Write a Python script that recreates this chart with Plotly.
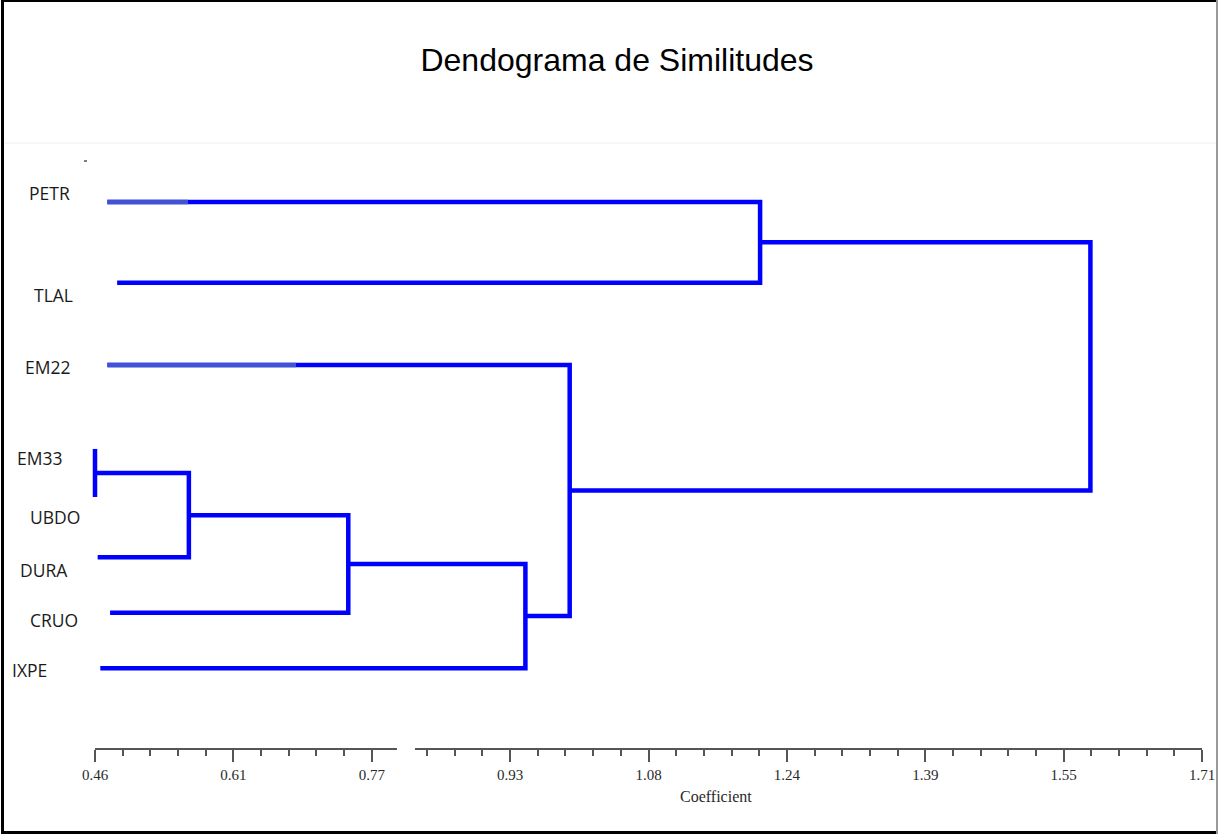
import plotly.graph_objects as go

# ---------------- data ----------------
leaf_names = ["PETR", "TLAL", "EM22", "EM33", "UBDO", "DURA", "CRUO", "IXPE"]
leaf_pos = [1.00, 1.99, 3.00, 4.03, 4.62, 5.36, 6.04, 6.72]
leaf_start = [0.474, 0.485, 0.474, 0.460, 0.460, 0.463, 0.477, 0.466]

# linkage (leaves are 0..7, new clusters numbered 8, 9, ...)
merge_a = [3, 8, 9, 10, 2, 0, 13]
merge_b = [4, 5, 6, 7, 11, 1, 12]
merge_h = [0.460, 0.566, 0.746, 0.946, 0.996, 1.211, 1.584]

# lighter-coloured starts of some leaf lines
faded_leaf = ["PETR", "EM22"]
faded_end = [0.565, 0.687]

# label rows (as printed on the picture)
label_text = ["PETR", "TLAL", "EM22", "EM33", "UBDO", "DURA", "CRUO", "IXPE"]
label_pos = [0.89, 2.14, 3.02, 4.14, 4.87, 5.52, 6.13, 6.74]

tick_text = ["0.46", "0.61", "0.77", "0.93", "1.08", "1.24", "1.39", "1.55", "1.71"]
axis_min, axis_max = 0.46, 1.71
axis_gap = (0.801, 0.8213)

title_text = "Dendograma de Similitudes"
x_title = "Coefficient"

# ---------------- layout geometry (pixels) ----------------
W, H = 1218, 835
L, R, T, B = 77, 1216, 143, 749
px_per_unit = (1202 - 95) / (axis_max - axis_min)
x_range = [axis_min - (95 - L) / px_per_unit, axis_max + (R - 1202) / px_per_unit]
row_px = 81.5
y_top = 1 + (T - 202) / row_px
y_bot = 1 + (B - 202) / row_px


def xp(px):
    return (px - L) / (R - L)


def yp(py):
    return (B - py) / (B - T)


# ---------------- build dendrogram ----------------
node_x = list(leaf_start)
node_y = list(leaf_pos)
segments = []
for a, b, h in zip(merge_a, merge_b, merge_h):
    segments.append(([node_x[a], h, h, node_x[b]], [node_y[a], node_y[a], node_y[b], node_y[b]]))
    node_x.append(h)
    node_y.append((node_y[a] + node_y[b]) / 2)

BLUE = "#0000FF"
fig = go.Figure()
for xs, ys in segments:
    fig.add_trace(go.Scatter(x=xs, y=ys, mode="lines",
                             line=dict(color=BLUE, width=4.5),
                             hoverinfo="skip", showlegend=False))
for name, xe in zip(faded_leaf, faded_end):
    i = leaf_names.index(name)
    fig.add_trace(go.Scatter(x=[leaf_start[i], xe], y=[leaf_pos[i], leaf_pos[i]], mode="lines",
                             line=dict(color="rgb(66,82,212)", width=4.5),
                             hoverinfo="skip", showlegend=False))

# ticks
n_major = len(tick_text)
step = (axis_max - axis_min) / (n_major - 1)
major_vals = [axis_min + k * step for k in range(n_major)]
minor_vals = []
for k in range((n_major - 1) * 5 + 1):
    v = axis_min + k * step / 5
    if k % 5 == 0:
        continue
    if axis_gap[0] < v < axis_gap[1]:
        continue
    minor_vals.append(v)

AX = "#555555"
fig.update_xaxes(range=x_range, showgrid=False, zeroline=False, showline=False,
                 tickmode="array", tickvals=major_vals, ticktext=tick_text,
                 ticks="outside", ticklen=12, tickwidth=2, tickcolor=AX,
                 tickfont=dict(family="Liberation Serif", size=15, color="#2a2a2a"),
                 minor=dict(tickmode="array", tickvals=minor_vals, ticks="outside",
                            ticklen=6, tickwidth=2, tickcolor=AX, showgrid=False))
fig.update_yaxes(range=[y_bot, y_top], visible=False, showgrid=False, zeroline=False)

shapes = []
# axis line with its break
for x0, x1 in [(axis_min, axis_gap[0]), (axis_gap[1], axis_max)]:
    shapes.append(dict(type="line", xref="x", yref="paper", x0=x0, x1=x1, y0=0, y1=0,
                       line=dict(color=AX, width=2)))
# faint separator under title
shapes.append(dict(type="line", xref="paper", yref="paper", x0=xp(4), x1=xp(1216), y0=yp(143), y1=yp(143),
                   line=dict(color="#eeeeee", width=1)))
# tiny stray mark near top-left
shapes.append(dict(type="line", xref="paper", yref="paper", x0=xp(84), x1=xp(87), y0=yp(161), y1=yp(161),
                   line=dict(color="#555555", width=1.5)))
# frame
shapes.append(dict(type="line", xref="paper", yref="paper", x0=xp(2.5), x1=xp(2.5), y0=yp(0), y1=yp(834),
                   line=dict(color="black", width=3)))
shapes.append(dict(type="line", xref="paper", yref="paper", x0=xp(1), x1=xp(1218), y0=yp(1), y1=yp(1),
                   line=dict(color="black", width=2)))
shapes.append(dict(type="line", xref="paper", yref="paper", x0=xp(1), x1=xp(1218), y0=yp(832.5), y1=yp(832.5),
                   line=dict(color="black", width=3)))
shapes.append(dict(type="line", xref="paper", yref="paper", x0=xp(1217), x1=xp(1217), y0=yp(0), y1=yp(834),
                   line=dict(color="#9a9a9a", width=2)))

label_left_px = [27, 32, 23, 15, 28, 18, 28, 10]
annotations = []
for txt, pos, lx in zip(label_text, label_pos, label_left_px):
    annotations.append(dict(text=txt, xref="paper", yref="y", x=xp(lx), y=pos,
                            xanchor="left", yanchor="middle", showarrow=False,
                            font=dict(family="Open Sans", size=17.5, color="#1a1a1a")))
annotations.append(dict(text=x_title, xref="paper", yref="paper", x=xp(716), y=yp(796),
                        xanchor="center", yanchor="middle", showarrow=False,
                        font=dict(family="Liberation Serif", size=16, color="#2a2a2a")))

fig.update_layout(
    width=W, height=H,
    margin=dict(l=L, r=W - R, t=T, b=H - B, pad=0),
    paper_bgcolor="white", plot_bgcolor="white",
    title=dict(text=title_text, x=617 / W, y=1 - 60 / H, xanchor="center", yanchor="middle",
               xref="container", yref="container",
               font=dict(family="Liberation Sans", size=32, color="black")),
    shapes=shapes, annotations=annotations,
)

fig.write_html("out.html", config={"displayModeBar": False},
               post_script="document.body.style.margin='0';document.body.style.overflow='hidden';")
